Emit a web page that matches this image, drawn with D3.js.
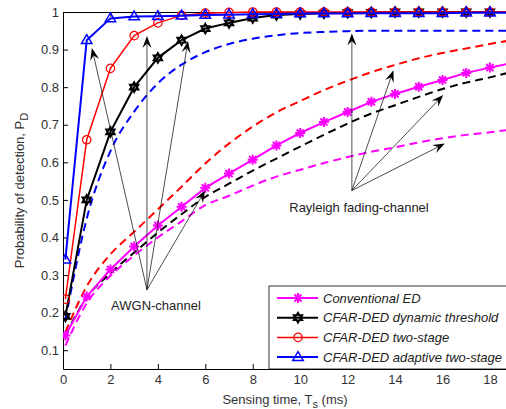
<!DOCTYPE html>
<html>
<head>
<meta charset="utf-8">
<script src="https://cdn.jsdelivr.net/npm/d3@7"></script>
<style>
	body { margin: 0; background: #fff; }
	svg { display: block; font-family: 'Liberation Sans', Arial, sans-serif; }
</style>
</head>
<body>
<div id="graph"></div>
<script>
// Sensing time samples (ms)
const sensingTime = [0.1, 1, 2, 3, 4, 5, 6, 7, 8, 9, 10, 11, 12, 13, 14, 15, 16, 17, 18, 19];

// AWGN channel (solid lines with markers)
const conventionalED = [0.139, 0.243, 0.315, 0.376, 0.432, 0.482, 0.532, 0.57, 0.607, 0.645, 0.678, 0.707, 0.734, 0.761, 0.782, 0.801, 0.819, 0.838, 0.852, 0.865];
const dynamicThreshold = [0.19, 0.5, 0.681, 0.8, 0.878, 0.925, 0.956, 0.971, 0.984, 0.992, 0.995, 0.997, 0.998, 0.999, 1, 1, 1, 1, 1, 1];
const twoStage = [0.236, 0.66, 0.85, 0.937, 0.971, 0.991, 0.997, 0.999, 1, 1, 1, 1, 1, 1, 1, 1, 1, 1, 1, 1];
const adaptiveTwoStage = [0.341, 0.925, 0.983, 0.988, 0.989, 0.99, 0.992, 0.993, 0.994, 0.995, 0.996, 0.996, 0.996, 0.997, 0.997, 0.997, 0.997, 0.998, 0.998, 0.998];

// Rayleigh fading channel (dashed lines)
const conventionalEDRay = [0.112, 0.225, 0.298, 0.352, 0.4, 0.443, 0.486, 0.511, 0.538, 0.562, 0.58, 0.598, 0.614, 0.628, 0.64, 0.653, 0.664, 0.673, 0.68, 0.688];
const dynamicThresholdRay = [0.14, 0.24, 0.305, 0.36, 0.413, 0.462, 0.508, 0.543, 0.578, 0.61, 0.642, 0.673, 0.703, 0.73, 0.752, 0.774, 0.795, 0.812, 0.826, 0.842];
const twoStageRay = [0.148, 0.27, 0.355, 0.415, 0.475, 0.535, 0.597, 0.65, 0.695, 0.733, 0.763, 0.792, 0.817, 0.84, 0.859, 0.877, 0.891, 0.903, 0.915, 0.926];
const adaptiveTwoStageRay = [0.18, 0.45, 0.63, 0.735, 0.81, 0.86, 0.893, 0.915, 0.929, 0.938, 0.944, 0.947, 0.949, 0.95, 0.95, 0.95, 0.95, 0.95, 0.95, 0.95];

const legendNames = ['Conventional ED', 'CFAR-DED dynamic threshold', 'CFAR-DED two-stage', 'CFAR-DED adaptive two-stage'];
const xTicks = [0, 2, 4, 6, 8, 10, 12, 14, 16, 18];
const yTicks = [0.1, 0.2, 0.3, 0.4, 0.5, 0.6, 0.7, 0.8, 0.9, 1];

// Annotation arrows: [x, y] tips in data units, from a shared apex
const awgnApex = [3.54, 0.261];
const awgnTips = [[1.22, 0.904], [3.54, 0.936], [5.27, 0.923], [5.99, 0.525]];
const rayApex = [12.18, 0.525];
const rayTips = [[12.18, 0.943], [13.93, 0.845], [16.03, 0.779], [16.1, 0.65]];

const W = 506, H = 409;
const margin = { top: 12, left: 63, right: -1, bottom: 40 };

const svg = d3.select('#graph')
	.append('svg')
	.attr('width', W)
	.attr('height', H);

const x = d3.scaleLinear().domain([0, 18.72]).range([margin.left, W - margin.right]);
const y = d3.scaleLinear().domain([0.05, 1]).range([H - margin.bottom, margin.top]);

// Axes (MATLAB style: inward ticks, mirrored box)
const xAxis = svg.append('g')
	.attr('transform', `translate(0, ${y(0.05)})`)
	.call(d3.axisBottom(x).tickValues(xTicks).tickSizeInner(-5).tickSizeOuter(0).tickPadding(6));
const xAxisTop = svg.append('g')
	.attr('transform', `translate(0, ${y(1)})`)
	.call(d3.axisTop(x).tickValues(xTicks).tickSizeInner(-5).tickSizeOuter(0).tickFormat(''));
const yAxis = svg.append('g')
	.attr('transform', `translate(${x(0)}, 0)`)
	.call(d3.axisLeft(y).tickValues(yTicks).tickSizeInner(-5).tickSizeOuter(0).tickPadding(4).tickFormat(d3.format('')));
[xAxis, xAxisTop, yAxis].forEach((g) => {
	g.selectAll('.tick text').attr('font-size', 13).attr('font-family', null).attr('fill', '#333');
	g.select('.domain').attr('stroke-width', 1);
});

// Axis labels
const yLabel = svg.append('text')
	.attr('transform', `translate(24, ${(y(1) + y(0.05)) / 2}) rotate(-90)`)
	.attr('text-anchor', 'middle')
	.attr('font-size', 13)
	.attr('fill', '#333');
yLabel.append('tspan').text('Probability of detection, P');
yLabel.append('tspan').attr('dy', 4).attr('font-size', 11).text('D');

const xLabel = svg.append('text')
	.attr('x', 285)
	.attr('y', 404)
	.attr('text-anchor', 'middle')
	.attr('font-size', 13)
	.attr('fill', '#333');
xLabel.append('tspan').text('Sensing time, T');
xLabel.append('tspan').attr('dy', 4).attr('font-size', 11).text('s');
xLabel.append('tspan').attr('dy', -4).text(' (ms)');

// Plot area clip
svg.append('clipPath').attr('id', 'clip')
	.append('rect')
	.attr('x', x(0)).attr('y', y(1) - 8)
	.attr('width', x(18.72) - x(0)).attr('height', y(0.05) - y(1) + 8);

const plot = svg.append('g').attr('clip-path', 'url(#clip)');

const line = d3.line()
	.x((d) => x(d[0]))
	.y((d) => y(d[1]));
const smooth = d3.line()
	.curve(d3.curveMonotoneX)
	.x((d) => x(d[0]))
	.y((d) => y(d[1]));

// Marker shapes
function markerPath(type, r) {
	if (type === 'star') {
		let p = '';
		for (let a = 0; a < 4; a++) {
			const t = (a * Math.PI) / 4;
			p += `M${-r * Math.cos(t)},${-r * Math.sin(t)}L${r * Math.cos(t)},${r * Math.sin(t)}`;
		}
		return p;
	}
	if (type === 'hexagram') {
		const pts = [];
		for (let i = 0; i < 12; i++) {
			const rr = i % 2 === 0 ? r : r * 0.58;
			const t = -Math.PI / 2 + (i * Math.PI) / 6;
			pts.push([rr * Math.cos(t), rr * Math.sin(t)]);
		}
		return 'M' + pts.join('L') + 'Z';
	}
	if (type === 'circle') {
		return `M${r},0A${r},${r} 0 1,1 ${-r},0A${r},${r} 0 1,1 ${r},0Z`;
	}
	// triangle up
	return `M0,${-r}L${r * 0.95},${r * 0.6}L${-r * 0.95},${r * 0.6}Z`;
}

const series = [
	{ name: legendNames[0], color: '#ff00ff', awgn: conventionalED, ray: conventionalEDRay, marker: 'star', r: 5, w: 2, mw: 2 },
	{ name: legendNames[1], color: '#000000', awgn: dynamicThreshold, ray: dynamicThresholdRay, marker: 'hexagram', r: 4.6, w: 2, mw: 2.2 },
	{ name: legendNames[2], color: '#ff0000', awgn: twoStage, ray: twoStageRay, marker: 'circle', r: 4.2, w: 1.5, mw: 1.2 },
	{ name: legendNames[3], color: '#0000ff', awgn: adaptiveTwoStage, ray: adaptiveTwoStageRay, marker: 'triangle', r: 5.5, w: 2, mw: 1.5 },
];

// Rayleigh dashed curves
series.forEach((s) => {
	plot.append('path')
		.datum(sensingTime.map((t, i) => [t, s.ray[i]]))
		.attr('fill', 'none')
		.attr('stroke', s.color)
		.attr('stroke-width', 2)
		.attr('stroke-dasharray', '8,5')
		.attr('d', smooth);
});

// AWGN solid curves with markers
series.forEach((s) => {
	const pts = sensingTime.map((t, i) => [t, s.awgn[i]]);
	plot.append('path')
		.datum(pts)
		.attr('fill', 'none')
		.attr('stroke', s.color)
		.attr('stroke-width', s.w)
		.attr('d', line);
	plot.selectAll(null)
		.data(pts)
		.join('path')
		.attr('transform', (d) => `translate(${x(d[0])}, ${y(d[1])})`)
		.attr('d', markerPath(s.marker, s.r))
		.attr('fill', 'none')
		.attr('stroke', s.color)
		.attr('stroke-width', s.mw);
});

// Arrows
function arrow(from, to) {
	const x0 = x(from[0]), y0 = y(from[1]), x1 = x(to[0]), y1 = y(to[1]);
	const ang = Math.atan2(y1 - y0, x1 - x0);
	const len = 12, half = 4.5, notch = 7.5;
	const ca = Math.cos(ang), sa = Math.sin(ang);
	const bx = x1 - len * ca, by = y1 - len * sa;
	const nx = x1 - notch * ca, ny = y1 - notch * sa;
	svg.append('line')
		.attr('x1', x0).attr('y1', y0)
		.attr('x2', nx).attr('y2', ny)
		.attr('stroke', '#000')
		.attr('stroke-width', 0.7);
	svg.append('path')
		.attr('d', `M${x1},${y1}L${bx - half * sa},${by + half * ca}L${nx},${ny}L${bx + half * sa},${by - half * ca}Z`)
		.attr('fill', '#000');
}
awgnTips.forEach((t) => arrow(awgnApex, t));
rayTips.forEach((t) => arrow(rayApex, t));

svg.append('text')
	.attr('x', 156)
	.attr('y', 310)
	.attr('text-anchor', 'middle')
	.attr('font-size', 13)
	.attr('fill', '#222')
	.text('AWGN-channel');

svg.append('text')
	.attr('x', 359)
	.attr('y', 212)
	.attr('text-anchor', 'middle')
	.attr('font-size', 13)
	.attr('fill', '#222')
	.text('Rayleigh fading-channel');

// Legend
const legend = svg.append('g').attr('transform', 'translate(269, 286)');
legend.append('rect')
	.attr('width', 245)
	.attr('height', y(0.05) - 286)
	.attr('fill', '#fff')
	.attr('stroke', '#000')
	.attr('stroke-width', 0.8);
series.forEach((s, i) => {
	const g = legend.append('g').attr('transform', `translate(0, ${12 + i * 19.7})`);
	g.append('line')
		.attr('x1', 8).attr('x2', 49)
		.attr('stroke', s.color)
		.attr('stroke-width', s.w);
	g.append('path')
		.attr('transform', 'translate(29, 0)')
		.attr('d', markerPath(s.marker, s.r))
		.attr('fill', 'none')
		.attr('stroke', s.color)
		.attr('stroke-width', s.mw);
	g.append('text')
		.attr('x', 54)
		.attr('y', 4.5)
		.attr('font-size', 13)
		.attr('font-style', 'italic')
		.attr('fill', '#222')
		.text(s.name);
});
</script>
</body>
</html>
